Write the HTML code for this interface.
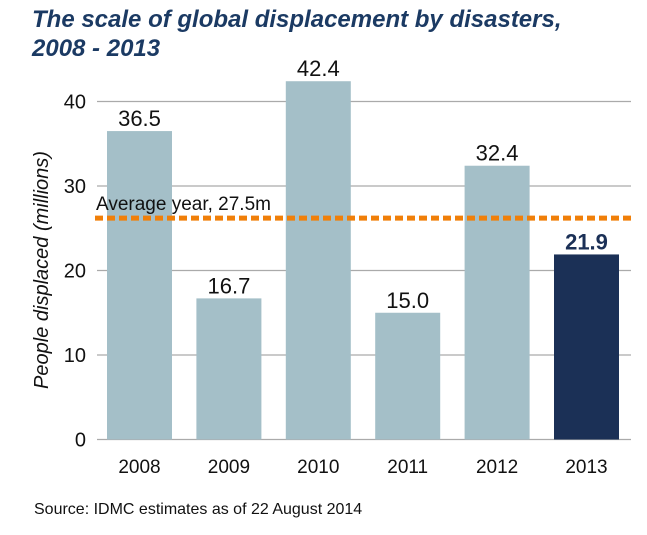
<!DOCTYPE html>
<html><head><meta charset="utf-8"><style>
body{margin:0;background:#fff;width:647px;height:530px;overflow:hidden;font-family:"Liberation Sans",sans-serif}
</style></head><body>
<svg width="647" height="530">
<text x="32" y="27" font-size="24" font-weight="bold" font-style="italic" fill="#1b3a63">The scale of global displacement by disasters,</text>
<text x="32" y="56" font-size="24" font-weight="bold" font-style="italic" fill="#1b3a63">2008 - 2013</text>
<text transform="translate(48,270) rotate(-90)" text-anchor="middle" font-size="20" font-style="italic" fill="#111">People displaced (millions)</text>
<g id="grid"></g><g id="bars"></g><g id="labels"></g>
<text x="34" y="514" font-size="16" fill="#111">Source: IDMC estimates as of 22 August 2014</text>
</svg>
<script>
const categories=["2008","2009","2010","2011","2012","2013"];
const values=[36.5,16.7,42.4,15.0,32.4,21.9];
const valueLabels=["36.5","16.7","42.4","15.0","32.4","21.9"];
const yTicks=[0,10,20,30,40];
const averageDrawn=[26.2];
const averageLabel=["Average year, 27.5m"];
const NS="http://www.w3.org/2000/svg";
const y=v=>439.5-v*8.45;
const x=i=>107+i*89.4;
const bw=65;
function mk(t,a,p){const e=document.createElementNS(NS,t);for(const k in a)e.setAttribute(k,a[k]);p.appendChild(e);return e;}
const g=document.getElementById('grid'),b=document.getElementById('bars'),l=document.getElementById('labels');
yTicks.forEach(v=>{
 const ln=mk('line',{x1:97,x2:631,y1:y(v),y2:y(v),stroke:'#aaa','stroke-width':1.2},g);
 
 
 const t=mk('text',{x:86,y:y(v)+7,'text-anchor':'end','font-size':20,fill:'#111'},g);
 t.textContent=v;
 
 
});
values.forEach((v,i)=>{
 const last=i===values.length-1;
 const r=mk('rect',{x:x(i),y:y(v),width:bw,height:y(0)-y(v),fill:last?'#1b3056':'#a4bfc8'},b);
 
 
 const t=mk('text',{x:x(i)+bw/2,y:y(v)-5,'text-anchor':'middle','font-size':22,fill:last?'#1b3056':'#111','font-weight':last?'bold':'normal'},l);
 t.textContent=valueLabels[i];
 
 
 const c=mk('text',{x:x(i)+bw/2,y:473,'text-anchor':'middle','font-size':19,fill:'#111'},l);
 c.textContent=categories[i];
 
 
});
const av=mk('line',{x1:95,x2:631,y1:y(averageDrawn[0]),y2:y(averageDrawn[0]),stroke:'#f07f09','stroke-width':5,'stroke-dasharray':'8 4'},l);


const at=mk('text',{x:96,y:y(averageDrawn[0])-8,'font-size':19,fill:'#111'},l);
at.textContent=averageLabel[0];


</script>
</body></html>
